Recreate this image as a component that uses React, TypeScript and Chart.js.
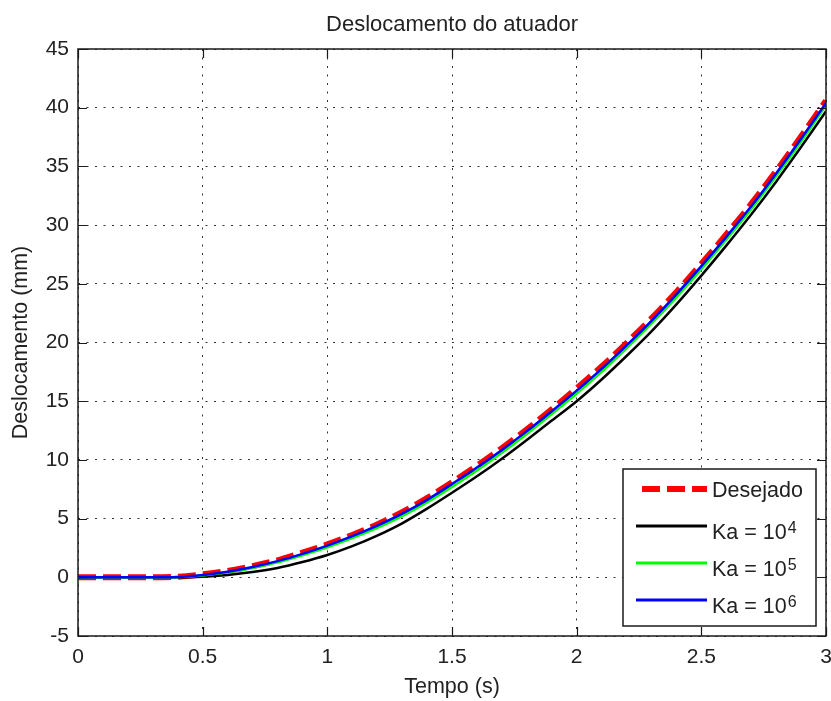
import React, { useEffect, useRef } from "react";
import { Chart, registerables } from "chart.js";

Chart.register(...registerables);

const tempo = [0, 0.1, 0.2, 0.3, 0.4, 0.5, 0.6, 0.7, 0.8, 0.9, 1.0, 1.1, 1.2, 1.3, 1.4, 1.5, 1.6, 1.7, 1.8, 1.9, 2.0, 2.1, 2.2, 2.3, 2.4, 2.5, 2.6, 2.7, 2.8, 2.9, 3.0];
const desejado = [0, 0, 0, 0, 0.05, 0.25, 0.55, 0.95, 1.45, 2.1, 2.8, 3.6, 4.5, 5.55, 6.75, 8.1, 9.5, 11.0, 12.6, 14.3, 16.1, 17.95, 19.95, 22.05, 24.3, 26.7, 29.2, 31.8, 34.6, 37.55, 40.6];
const ka4 = [0, 0, 0, 0, 0, 0.05, 0.2, 0.45, 0.8, 1.3, 1.9, 2.65, 3.55, 4.6, 5.85, 7.2, 8.6, 10.1, 11.7, 13.35, 15.0, 16.85, 18.85, 20.95, 23.25, 25.7, 28.25, 30.9, 33.7, 36.65, 39.7];
const ka5 = [0, 0, 0, 0, 0.02, 0.15, 0.42, 0.8, 1.28, 1.88, 2.56, 3.34, 4.22, 5.22, 6.38, 7.7, 9.1, 10.6, 12.2, 13.9, 15.65, 17.5, 19.5, 21.6, 23.85, 26.25, 28.75, 31.35, 34.15, 37.1, 40.2];
const ka6 = [0, 0, 0, 0, 0.03, 0.2, 0.48, 0.88, 1.38, 2.0, 2.7, 3.5, 4.4, 5.42, 6.6, 7.95, 9.35, 10.85, 12.45, 14.15, 15.9, 17.75, 19.75, 21.85, 24.1, 26.5, 29.0, 31.6, 34.4, 37.35, 40.4];

const xTicks = [0, 0.5, 1, 1.5, 2, 2.5, 3];
const yTicks = [-5, 0, 5, 10, 15, 20, 25, 30, 35, 40, 45];

const titleText = "Deslocamento do atuador";
const xTitle = "Tempo (s)";
const yTitle = "Deslocamento (mm)";

const legendEntries = [
  { base: "Desejado", sup: "", color: "#ff0000", dashed: true },
  { base: "Ka = 10", sup: "4", color: "#000000", dashed: false },
  { base: "Ka = 10", sup: "5", color: "#00ff00", dashed: false },
  { base: "Ka = 10", sup: "6", color: "#0000ff", dashed: false },
];

const FONT = "'Liberation Sans', Arial, sans-serif";
const TEXT_COLOR = "#222222";

const toPoints = (ys: number[]) => tempo.map((t, i) => ({ x: t, y: ys[i] }));

const decorPlugin = {
  id: "decor",
  afterDatasetsDraw(chart: any) {
    const { ctx, chartArea: ca, scales } = chart;
    const xs = scales.x;
    const ysc = scales.y;
    ctx.save();
    // box
    ctx.strokeStyle = "#1a1a1a";
    ctx.lineWidth = 1.5;
    ctx.strokeRect(ca.left, ca.top, ca.right - ca.left, ca.bottom - ca.top);
    // inward ticks
    ctx.lineWidth = 1.2;
    const tl = 9;
    ctx.beginPath();
    xTicks.forEach((v) => {
      const px = Math.round(xs.getPixelForValue(v)) + 0.5;
      ctx.moveTo(px, ca.bottom);
      ctx.lineTo(px, ca.bottom - tl);
      ctx.moveTo(px, ca.top);
      ctx.lineTo(px, ca.top + tl);
    });
    yTicks.forEach((v) => {
      const py = Math.round(ysc.getPixelForValue(v)) + 0.5;
      ctx.moveTo(ca.left, py);
      ctx.lineTo(ca.left + tl, py);
      ctx.moveTo(ca.right, py);
      ctx.lineTo(ca.right - tl, py);
    });
    ctx.stroke();

    // legend
    const lw = 193;
    const lh = 157;
    const lx = ca.right - 10 - lw;
    const ly = ca.bottom - 10 - lh;
    ctx.fillStyle = "#ffffff";
    ctx.fillRect(lx, ly, lw, lh);
    ctx.strokeStyle = "#1a1a1a";
    ctx.lineWidth = 1.5;
    ctx.strokeRect(lx, ly, lw, lh);
    legendEntries.forEach((e, i) => {
      const y = ly + 20 + i * 37;
      ctx.save();
      ctx.strokeStyle = e.color;
      if (e.dashed) {
        ctx.lineWidth = 6;
        ctx.setLineDash([18, 7]);
        ctx.beginPath();
        ctx.moveTo(lx + 19, y);
        ctx.lineTo(lx + 84, y);
        ctx.stroke();
      } else {
        ctx.lineWidth = 3;
        ctx.beginPath();
        ctx.moveTo(lx + 13, y);
        ctx.lineTo(lx + 84, y);
        ctx.stroke();
      }
      ctx.restore();
      ctx.fillStyle = TEXT_COLOR;
      ctx.textAlign = "left";
      ctx.textBaseline = "alphabetic";
      ctx.font = `21.5px ${FONT}`;
      const tx = lx + 89;
      const baseY = e.sup ? y + 13 : y + 8;
      ctx.fillText(e.base, tx, baseY);
      if (e.sup) {
        const w = ctx.measureText(e.base).width;
        ctx.font = `16px ${FONT}`;
        ctx.fillText(e.sup, tx + w + 1, baseY - 6);
      }
    });

    // titles
    const cx = (ca.left + ca.right) / 2;
    ctx.fillStyle = TEXT_COLOR;
    ctx.textAlign = "center";
    ctx.textBaseline = "alphabetic";
    ctx.font = `22px ${FONT}`;
    ctx.fillText(titleText, cx, 31);
    ctx.font = `21.5px ${FONT}`;
    ctx.fillText(xTitle, cx, 693);
    ctx.save();
    ctx.translate(27, (ca.top + ca.bottom) / 2);
    ctx.rotate(-Math.PI / 2);
    ctx.fillText(yTitle, 0, 0);
    ctx.restore();
    ctx.restore();
  },
};

export default function App() {
  const canvasRef = useRef<HTMLCanvasElement | null>(null);

  useEffect(() => {
    document.body.style.margin = "0";
    const canvas = canvasRef.current;
    if (!canvas) return;
    const chart = new Chart(canvas, {
      type: "line",
      data: {
        datasets: [
          {
            label: "Desejado",
            data: toPoints(desejado),
            borderColor: "#ff0000",
            borderWidth: 6,
            borderDash: [18, 7],
            pointRadius: 0,
            order: 4,
            cubicInterpolationMode: "monotone",
          },
          {
            label: "Ka = 10^4",
            data: toPoints(ka4),
            borderColor: "#000000",
            borderWidth: 2.5,
            pointRadius: 0,
            order: 3,
            cubicInterpolationMode: "monotone",
          },
          {
            label: "Ka = 10^5",
            data: toPoints(ka5),
            borderColor: "#00ff00",
            borderWidth: 2.5,
            pointRadius: 0,
            order: 2,
            cubicInterpolationMode: "monotone",
          },
          {
            label: "Ka = 10^6",
            data: toPoints(ka6),
            borderColor: "#0000ff",
            borderWidth: 2.5,
            pointRadius: 0,
            order: 1,
            cubicInterpolationMode: "monotone",
          },
        ],
      },
      options: {
        animation: false,
        responsive: false,
        maintainAspectRatio: false,
        layout: { padding: { left: 0, top: 49, right: 5, bottom: 0 } },
        plugins: {
          legend: { display: false },
          tooltip: { enabled: false },
          title: { display: false },
        },
        scales: {
          x: {
            type: "linear",
            min: 0,
            max: 3,
            afterBuildTicks: (s: any) => {
              s.ticks = xTicks.map((v) => ({ value: v }));
            },
            afterFit: (s: any) => {
              s.height = 65;
              s.paddingLeft = 0;
              s.paddingRight = 0;
            },
            ticks: {
              autoSkip: false,
              maxRotation: 0,
              padding: 9,
              color: TEXT_COLOR,
              font: { family: FONT, size: 21 },
              callback: (v: any) => String(v),
            },
            grid: { color: "#333333", lineWidth: 1, drawTicks: false },
            border: { display: false, dash: [2, 6.5] },
          },
          y: {
            type: "linear",
            min: -5,
            max: 45,
            afterBuildTicks: (s: any) => {
              s.ticks = yTicks.map((v) => ({ value: v }));
            },
            afterFit: (s: any) => {
              s.width = 78;
              s.paddingTop = 0;
              s.paddingBottom = 0;
            },
            ticks: {
              autoSkip: false,
              padding: 9,
              color: TEXT_COLOR,
              font: { family: FONT, size: 21 },
              callback: (v: any) => String(v),
            },
            grid: { color: "#333333", lineWidth: 1, drawTicks: false },
            border: { display: false, dash: [2, 6.5] },
          },
        },
      },
      plugins: [decorPlugin],
    } as any);
    return () => chart.destroy();
  }, []);

  return (
    <div style={{ width: 831, height: 701, background: "#ffffff" }}>
      <canvas ref={canvasRef} width={831} height={701} style={{ display: "block" }} />
    </div>
  );
}
